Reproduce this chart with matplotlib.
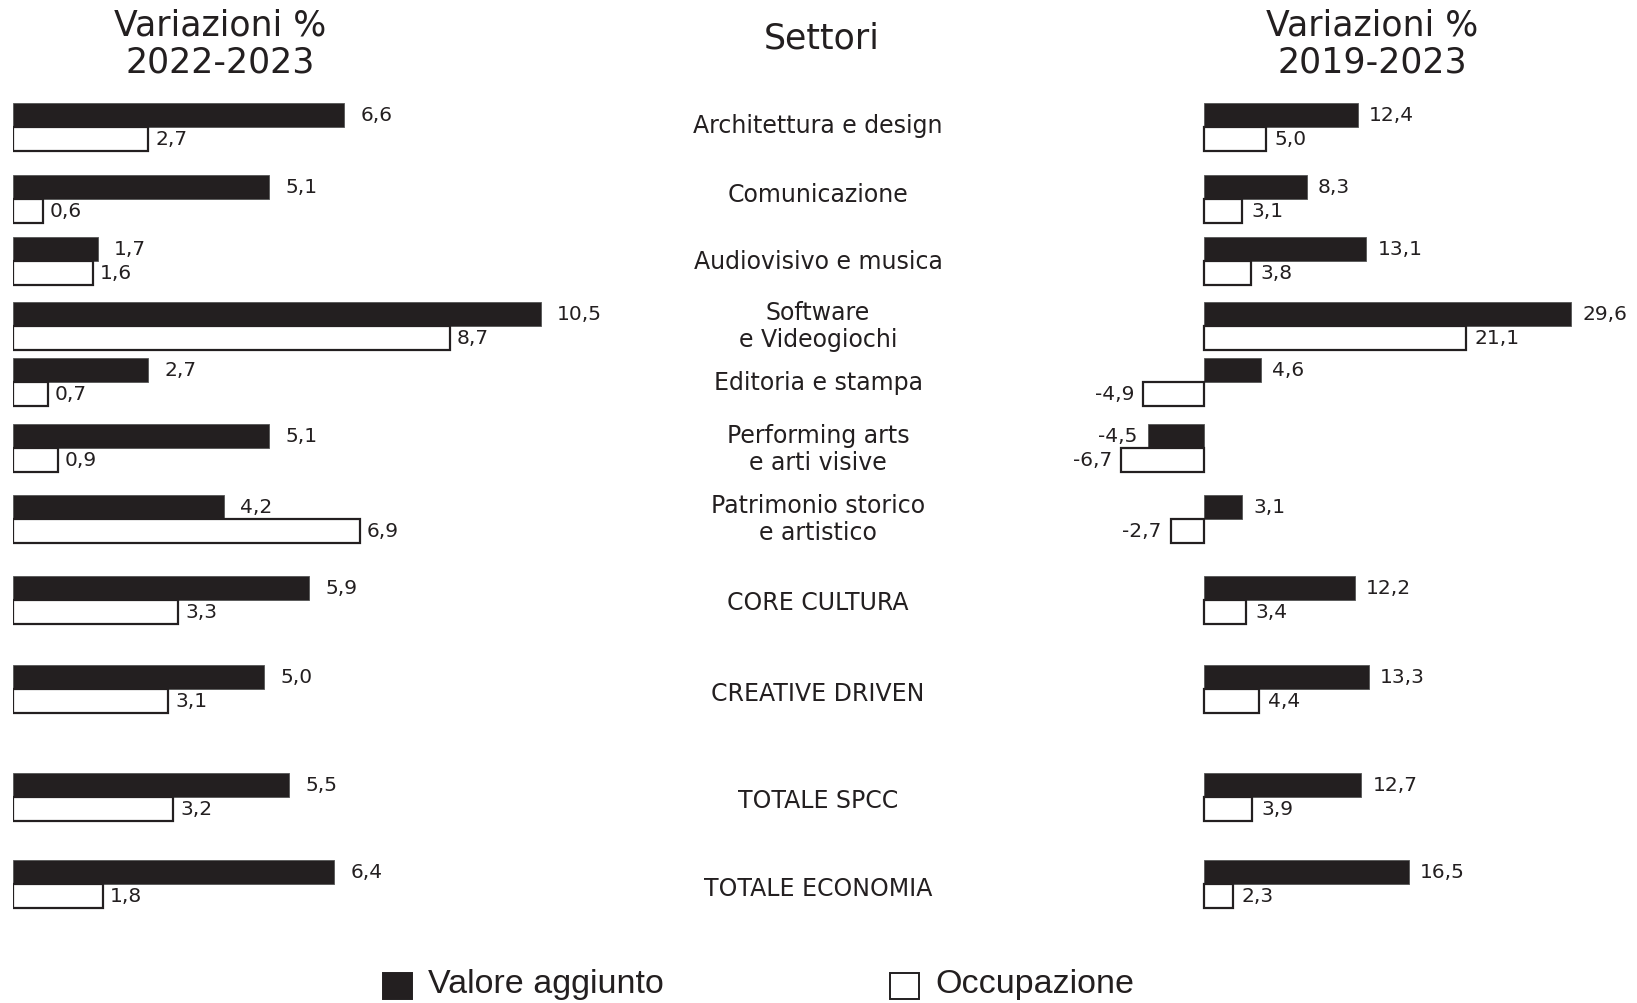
import matplotlib
matplotlib.use("Agg")
import matplotlib.pyplot as plt
from matplotlib.patches import Rectangle

W, H = 1637, 1003
DARK = "#231f20"
FONT = "DejaVu Sans"

sectors = ["Architettura e design", "Comunicazione", "Audiovisivo e musica",
           "Software\ne Videogiochi", "Editoria e stampa",
           "Performing arts\ne arti visive", "Patrimonio storico\ne artistico",
           "CORE CULTURA", "CREATIVE DRIVEN", "TOTALE SPCC", "TOTALE ECONOMIA"]
va_22_23 = [6.6, 5.1, 1.7, 10.5, 2.7, 5.1, 4.2, 5.9, 5.0, 5.5, 6.4]
occ_22_23 = [2.7, 0.6, 1.6, 8.7, 0.7, 0.9, 6.9, 3.3, 3.1, 3.2, 1.8]
va_19_23 = [12.4, 8.3, 13.1, 29.6, 4.6, -4.5, 3.1, 12.2, 13.3, 12.7, 16.5]
occ_19_23 = [5.0, 3.1, 3.8, 21.1, -4.9, -6.7, -2.7, 3.4, 4.4, 3.9, 2.3]

# layout: row centres and sector-name centres in pixels from the top
row_y = [127, 199, 261, 326, 382, 448, 519, 600, 689, 797, 884]
name_y = [126, 195, 262, 326, 383, 449, 519, 603, 694, 801, 889]
BAR_H = 24


def fmt(v):
    return f"{v:.1f}".replace(".", ",")


fig = plt.figure(figsize=(W / 100, 10.035), dpi=100)
fig.patch.set_facecolor("white")

# left panel: 0 at x=12.5px, 50.3 px per unit
ax_l = fig.add_axes([12.5 / W, 0, 11 * 50.3 / W, 1])
ax_l.set_xlim(0, 11)
# right panel: 0 at x=1204px, 12.4 px per unit
ax_r = fig.add_axes([(1204 - 8 * 12.4) / W, 0, 39 * 12.4 / W, 1])
ax_r.set_xlim(-8, 31)


def panel(ax, va, occ, gap_b, gap_w):
    ax.set_ylim(H, 0)
    ax.axis("off")
    yb = [y - BAR_H / 2 for y in row_y]
    yw = [y + BAR_H / 2 for y in row_y]
    ax.barh(yb, va, height=BAR_H, color=DARK, edgecolor="#555", linewidth=0.6)
    ax.barh(yw, occ, height=BAR_H, color="white", edgecolor=DARK, linewidth=1.6)
    for ys, vals, gap in ((yb, va, gap_b), (yw, occ, gap_w)):
        for y, v in zip(ys, vals):
            sign = 1 if v >= 0 else -1
            ax.annotate(fmt(v), xy=(v, y), xytext=(sign * gap * 0.72, 0),
                        textcoords="offset points",
                        ha="left" if v >= 0 else "right", va="center",
                        fontsize=14.5, family=FONT, color=DARK)


panel(ax_l, va_22_23, occ_22_23, 16, 7)
panel(ax_r, va_19_23, occ_19_23, 11, 9)

# sector names in the middle
for name, y in zip(sectors, name_y):
    fig.text(818 / W, 1 - y / H, name, ha="center", va="center",
             fontsize=17, family=FONT, color=DARK, linespacing=1.15)

# column headers
for x, txt in ((220, "Variazioni %\n2022-2023"), (1372, "Variazioni %\n2019-2023")):
    fig.text(x / W, 1 - 44 / H, txt, ha="center", va="center",
             fontsize=25, family=FONT, color=DARK, linespacing=1.1)
fig.text(822 / W, 1 - 38 / H, "Settori", ha="center", va="center",
         fontsize=25, family=FONT, color=DARK)

# legend
for x0, fc, label in ((383, DARK, "Valore aggiunto"), (890, "white", "Occupazione")):
    fig.add_artist(Rectangle((x0 / W, 1 - 999 / H), 29 / W, 26 / H,
                             transform=fig.transFigure, facecolor=fc,
                             edgecolor=DARK, linewidth=1.4))
    fig.text((x0 + 45) / W, 1 - 984 / H, label, ha="left", va="center",
             fontsize=24.5, family="Liberation Sans", color=DARK)

fig.savefig("out.png", dpi=100, facecolor="white")
